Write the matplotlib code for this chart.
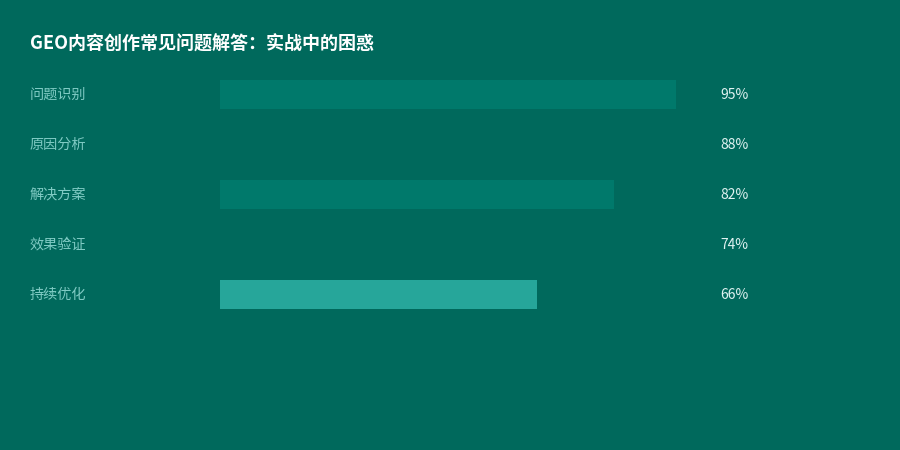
import matplotlib
matplotlib.use("Agg")
import matplotlib.pyplot as plt
import matplotlib.transforms as mtransforms

plt.rcParams['font.family'] = ['Noto Sans CJK SC', 'DejaVu Sans']

title = "GEO内容创作常见问题解答：实战中的困惑"
categories = ["问题识别", "原因分析", "解决方案", "效果验证", "持续优化"]
values = [95, 88, 82, 74, 66]
value_labels = ["95%", "88%", "82%", "74%", "66%"]
bar_colors = ["#00796B", "#00695C", "#00796B", "#00695C", "#26A69A"]

BG = "#00695C"
W, H = 900, 450
fig = plt.figure(figsize=(W / 100, H / 100), dpi=100)
fig.patch.set_facecolor(BG)

# axes: x from 220 to 700 px, y from 69 to 319 px
ax = fig.add_axes([220 / W, 1 - 319 / H, 480 / W, 250 / H])
ax.set_facecolor(BG)
ax.set_xlim(0, 100)
ax.set_ylim(len(categories) - 0.5, -0.5)
ax.axis('off')

ypos = list(range(len(categories)))
ax.barh(ypos, values, height=0.58, color=bar_colors, left=0)

tr_label = mtransforms.blended_transform_factory(fig.transFigure, ax.transData)
for y, cat, vl in zip(ypos, categories, value_labels):
    ax.text(30 / W, y + 0.02, cat, transform=tr_label, ha='left', va='center',
            fontsize=10.2, color="#80CBC4")
    ax.text(720 / W, y + 0.02, vl, transform=tr_label, ha='left', va='center',
            fontsize=10, color="#E0F2F1")

fig.text(30 / W, 1 - 44 / H, title, ha='left', va='center', fontsize=13,
         fontweight='bold', color='white')

fig.savefig("out.png", dpi=100, facecolor=BG)
